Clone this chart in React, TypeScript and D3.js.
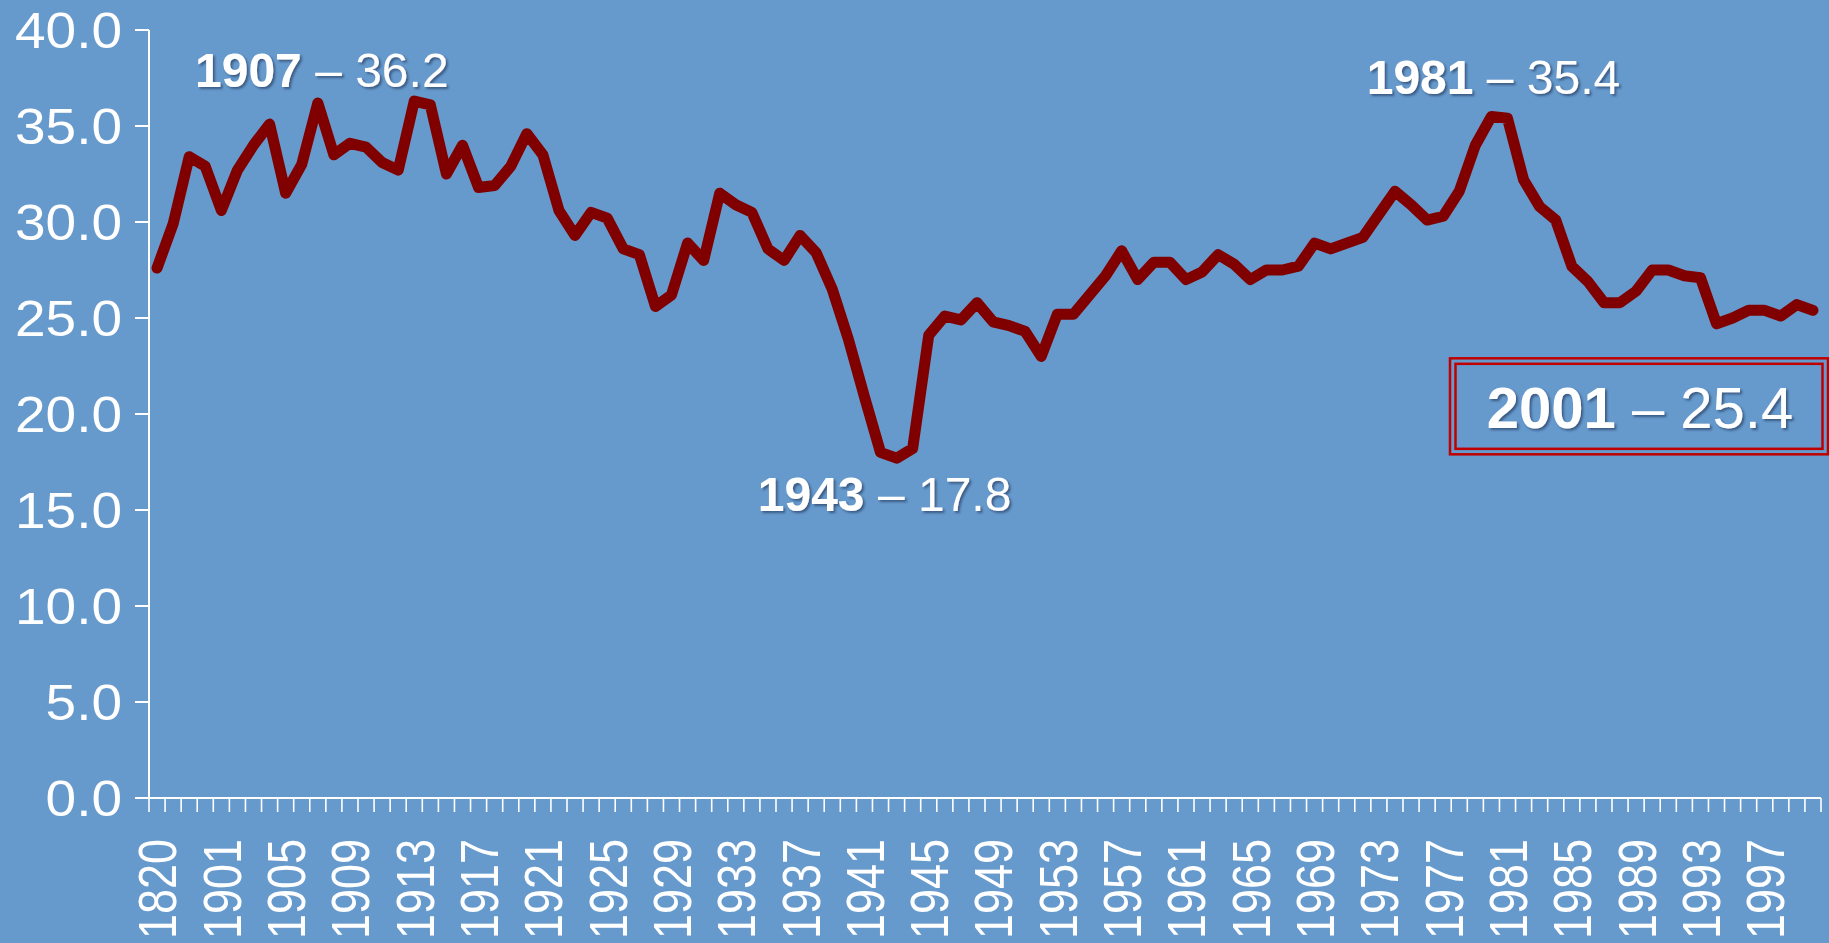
import React, { useRef, useEffect } from 'react'
import * as d3 from 'd3'

const years: string[] = ['1820', '1870', '1890', '1900', ...d3.range(1901, 2001).map(String)]

const values: number[] = [
    27.6, 29.9, 33.4, 32.9, 30.6, 32.7, 34.0, 35.1, 31.5, 33.0,
    36.2, 33.5, 34.1, 33.9, 33.1, 32.7, 36.3, 36.1, 32.5, 34.0,
    31.8, 31.9, 32.9, 34.6, 33.5, 30.6, 29.3, 30.5, 30.2, 28.6,
    28.3, 25.6, 26.2, 28.9, 28.0, 31.5, 30.9, 30.5, 28.6, 28.0,
    29.3, 28.4, 26.5, 23.9, 20.9, 18.0, 17.7, 18.2, 24.1, 25.1,
    24.9, 25.8, 24.8, 24.6, 24.3, 23.0, 25.2, 25.2, 26.2, 27.2,
    28.5, 27.0, 27.9, 27.9, 27.0, 27.4, 28.3, 27.8, 27.0, 27.5,
    27.5, 27.7, 28.9, 28.6, 28.9, 29.2, 30.4, 31.6, 30.9, 30.1,
    30.3, 31.6, 34.0, 35.5, 35.4, 32.2, 30.8, 30.1, 27.7, 26.9,
    25.8, 25.8, 26.4, 27.5, 27.5, 27.2, 27.1, 24.7, 25.0, 25.4,
    25.4, 25.1, 25.7, 25.4,
]

const yTicks: number[] = [0, 5, 10, 15, 20, 25, 30, 35, 40]

// annotated points: index into years, shown year, shown value
const notes = [
    { i: 10, year: '1907', value: '36.2', dx: 4, dy: -16 },
    { i: 46, year: '1943', value: '17.8', dx: -12, dy: 53 },
    { i: 84, year: '1981', value: '35.4', dx: -14, dy: -24 },
]
const boxNote = { year: '2001', value: '25.4' }

const W = 1829
const H = 943
const FONT = '"Liberation Sans", Arial, sans-serif'

const App = () => {
    const ref = useRef<SVGSVGElement | null>(null)

    useEffect(() => {
        const svg = d3.select(ref.current)
        svg.selectAll('*').remove()

        const x = d3.scaleBand<string>().domain(years).range([149, 1821]).padding(0)
        const y = d3.scaleLinear().domain([0, 40]).range([798, 30])
        const cx = (d: string) => (x(d) as number) + x.bandwidth() / 2

        const defs = svg.append('defs')
        const f = defs.append('filter').attr('id', 'shadow')
            .attr('x', '-10%').attr('y', '-30%').attr('width', '130%').attr('height', '160%')
        f.append('feDropShadow')
            .attr('dx', 2).attr('dy', 2).attr('stdDeviation', 1.2)
            .attr('flood-color', '#1c3455').attr('flood-opacity', 0.6)

        svg.append('rect').attr('width', W).attr('height', H).attr('fill', '#6699cc')

        // y axis
        const gy = svg.append('g')
        gy.append('line')
            .attr('x1', 149).attr('x2', 149).attr('y1', y(40)).attr('y2', y(0))
            .attr('stroke', '#fff').attr('stroke-width', 2)
        yTicks.forEach(t => {
            gy.append('line')
                .attr('x1', 135).attr('x2', 149).attr('y1', y(t)).attr('y2', y(t))
                .attr('stroke', '#fff').attr('stroke-width', 2)
            gy.append('text')
                .attr('transform', `translate(122,${y(t)}) scale(1.1,1)`)
                .attr('text-anchor', 'end')
                .attr('dy', '0.36em')
                .attr('font-family', FONT)
                .attr('font-size', 50)
                .attr('fill', '#fff')
                .text(t.toFixed(1))
        })

        // x axis
        const gx = svg.append('g')
        gx.append('line')
            .attr('x1', 149).attr('x2', 1821).attr('y1', y(0)).attr('y2', y(0))
            .attr('stroke', '#fff').attr('stroke-width', 2)
        years.forEach((d, i) => {
            gx.append('line')
                .attr('x1', x(d) as number).attr('x2', x(d) as number)
                .attr('y1', y(0)).attr('y2', y(0) + 14)
                .attr('stroke', '#fff').attr('stroke-width', 1.6)
            if (i % 4 === 0) {
                gx.append('text')
                    .attr('transform', `translate(${cx(d)},${y(0) + 41}) scale(1.2,1) rotate(-90)`)
                    .attr('text-anchor', 'end')
                    .attr('dy', '0.36em')
                    .attr('font-family', FONT)
                    .attr('font-size', 45)
                    .attr('fill', '#fff')
                    .text(d)
            }
        })
        gx.append('line')
            .attr('x1', 1821).attr('x2', 1821).attr('y1', y(0)).attr('y2', y(0) + 14)
            .attr('stroke', '#fff').attr('stroke-width', 1.6)

        // the series
        const line = d3.line<number>()
            .x((_, i) => cx(years[i]))
            .y(v => y(v))
        svg.append('path')
            .datum(values)
            .attr('d', line)
            .attr('fill', 'none')
            .attr('stroke', '#800000')
            .attr('stroke-width', 11)
            .attr('stroke-linejoin', 'round')
            .attr('stroke-linecap', 'round')

        // annotations
        notes.forEach(n => {
            const t = svg.append('text')
                .attr('x', cx(years[n.i]) + n.dx)
                .attr('y', y(values[n.i]) + n.dy)
                .attr('text-anchor', 'middle')
                .attr('font-family', FONT)
                .attr('font-size', 48)
                .attr('fill', '#fff')
                .attr('filter', 'url(#shadow)')
            t.append('tspan').attr('font-weight', 'bold').text(n.year)
            t.append('tspan').text(' \u2013 ' + n.value)
        })

        // boxed note for the last year
        const last = years.length - 1
        const bx = 1450
        const by = y(values[last]) + 48
        svg.append('rect')
            .attr('x', bx).attr('y', by).attr('width', 378).attr('height', 96)
            .attr('fill', 'none').attr('stroke', '#c00000').attr('stroke-width', 2.5)
        svg.append('rect')
            .attr('x', bx + 5.5).attr('y', by + 5.5).attr('width', 367).attr('height', 85)
            .attr('fill', 'none').attr('stroke', '#c00000').attr('stroke-width', 2.5)
        const bt = svg.append('text')
            .attr('x', bx + 190)
            .attr('y', by + 70)
            .attr('text-anchor', 'middle')
            .attr('font-family', FONT)
            .attr('font-size', 58)
            .attr('fill', '#fff')
            .attr('filter', 'url(#shadow)')
        bt.append('tspan').attr('font-weight', 'bold').text(boxNote.year)
        bt.append('tspan').text(' \u2013 ' + boxNote.value)
    }, [])

    return (
        <svg
            ref={ref}
            width={W}
            height={H}
            style={{ position: 'absolute', left: 0, top: 0, display: 'block' }}
        />
    )
}

export default App
